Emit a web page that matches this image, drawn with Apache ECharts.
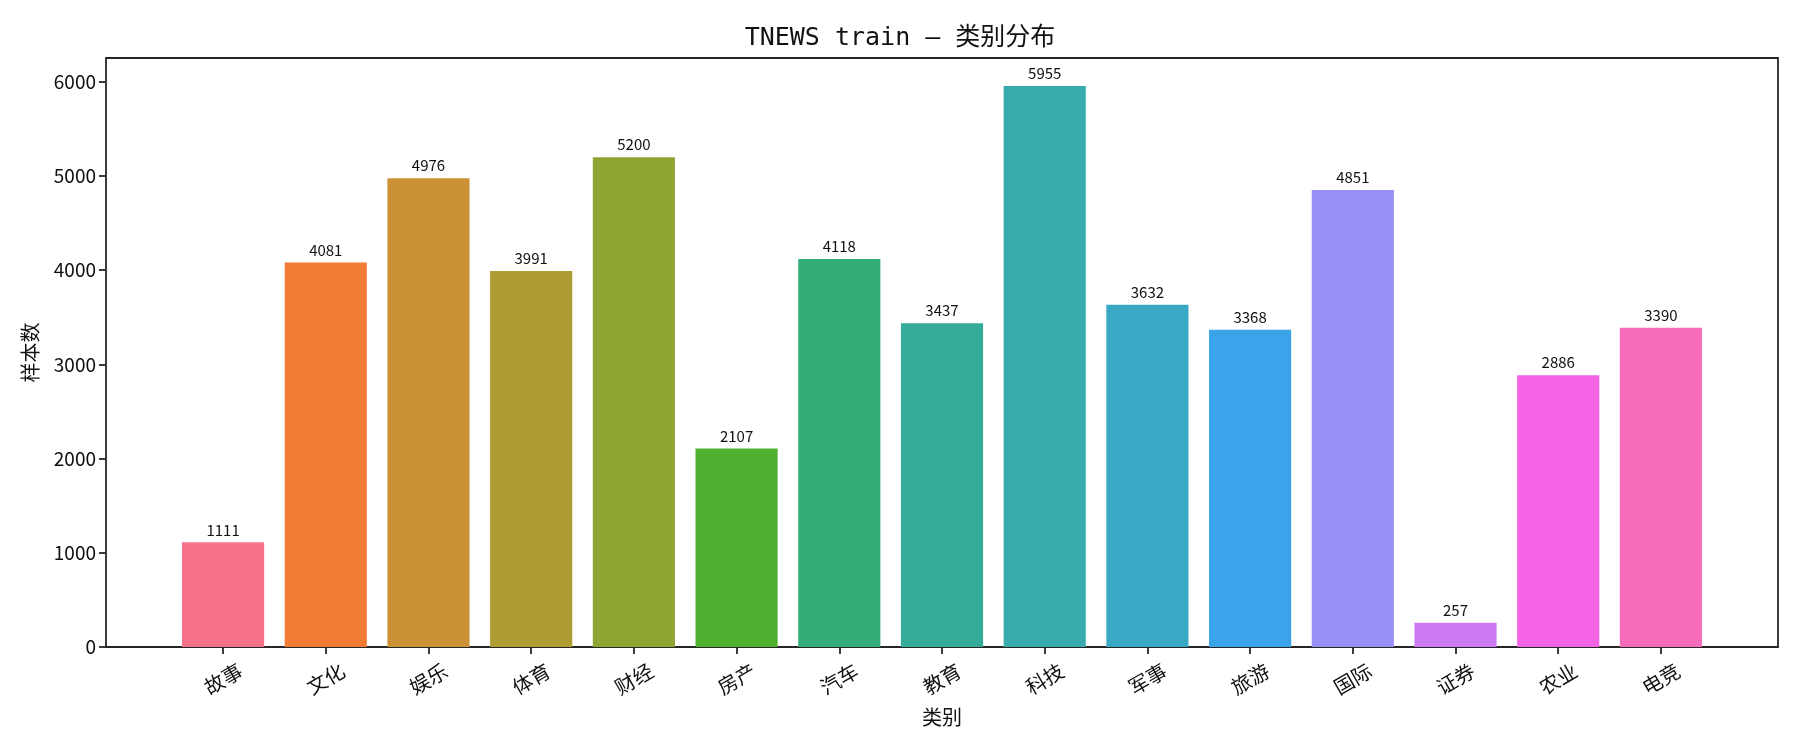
<!DOCTYPE html>
<html>
<head>
<meta charset="utf-8">
<script src="https://cdn.jsdelivr.net/npm/echarts@6/dist/echarts.min.js"></script>
<style>
html, body { margin: 0; padding: 0; background: #fff; }
#chart-panel { width: 1800px; height: 750px; }
</style>
</head>
<body>
<div id="chart-panel"></div>
<script>
var categories = ['故事', '文化', '娱乐', '体育', '财经', '房产', '汽车', '教育', '科技', '军事', '旅游', '国际', '证券', '农业', '电竞'];
var counts = [1111, 4081, 4976, 3991, 5200, 2107, 4118, 3437, 5955, 3632, 3368, 4851, 257, 2886, 3390];
var yTicks = [0, 1000, 2000, 3000, 4000, 5000, 6000];
var palette = ['#f77189', '#f37b33', '#cc9134', '#ae9d32', '#8fa533', '#50b131', '#33ae79', '#35ac9a', '#37abad', '#39a8c5', '#3ba3ea', '#978ff5', '#cc7af4', '#f564e4', '#f66bba'];

var font = "'Noto Sans CJK SC', sans-serif";
var ink = '#262626';

// matplotlib-like margins: 5% on each side of the bars / top of tallest bar
var xMin = -0.4 - 0.05 * (categories.length - 0.2);
var xMax = categories.length - 1 + 0.4 + 0.05 * (categories.length - 0.2);
var yMax = Math.max.apply(null, counts) * 1.05;

var barData = [];
for (var i = 0; i < categories.length; i++) {
	barData.push({
		value: [i, counts[i]],
		itemStyle: { color: palette[i] }
	});
}

var myChart = echarts.init(document.getElementById('chart-panel'));
var option = {
	backgroundColor: '#fff',
	animation: false,
	title: {
		text: 'TNEWS train — 类别分布',
		left: 'center',
		top: 21,
		textStyle: { fontFamily: "'DejaVu Sans Mono', 'Noto Sans CJK SC', monospace", fontSize: 25, fontWeight: 'normal', color: '#111' }
	},
	grid: {
		left: 106, right: 22, top: 58, bottom: 103,
		show: true,
		borderColor: ink,
		borderWidth: 1.8
	},
	xAxis: {
		type: 'value',
		min: xMin,
		max: xMax,
		name: '类别',
		nameLocation: 'middle',
		nameGap: 60,
		nameTextStyle: { fontFamily: font, fontSize: 20, color: '#111' },
		axisLine: { show: false, onZero: false },
		splitLine: { show: false },
		axisTick: {
			show: true, length: 7, inside: false,
			lineStyle: { color: ink, width: 1.8 },
			customValues: categories.map(function (c, k) { return k; })
		},
		axisLabel: {
			rotate: 30,
			align: 'center',
			verticalAlign: 'middle',
			margin: 32,
			fontFamily: font, fontSize: 20, color: '#111',
			customValues: categories.map(function (c, k) { return k; }),
			formatter: function (v) { return categories[Math.round(v)]; }
		}
	},
	yAxis: {
		type: 'value',
		min: 0,
		max: yMax,
		name: '样本数',
		nameLocation: 'middle',
		nameGap: 66,
		nameTextStyle: { fontFamily: font, fontSize: 20, color: '#111' },
		axisLine: { show: false, onZero: false },
		splitLine: { show: false },
		axisTick: {
			show: true, length: 7,
			lineStyle: { color: ink, width: 1.8 },
			customValues: yTicks
		},
		axisLabel: {
			margin: 10,
			fontFamily: font, fontSize: 19, color: '#111',
			customValues: yTicks,
			formatter: function (v) { return String(v); }
		}
	},
	series: [{
		type: 'bar',
		barWidth: '80%',
		data: barData,
		label: {
			show: true,
			position: 'top',
			distance: 5,
			fontFamily: font,
			fontSize: 15,
			color: '#111',
			formatter: function (p) { return p.value[1]; }
		}
	}]
};
myChart.setOption(option);
</script>
</body>
</html>
